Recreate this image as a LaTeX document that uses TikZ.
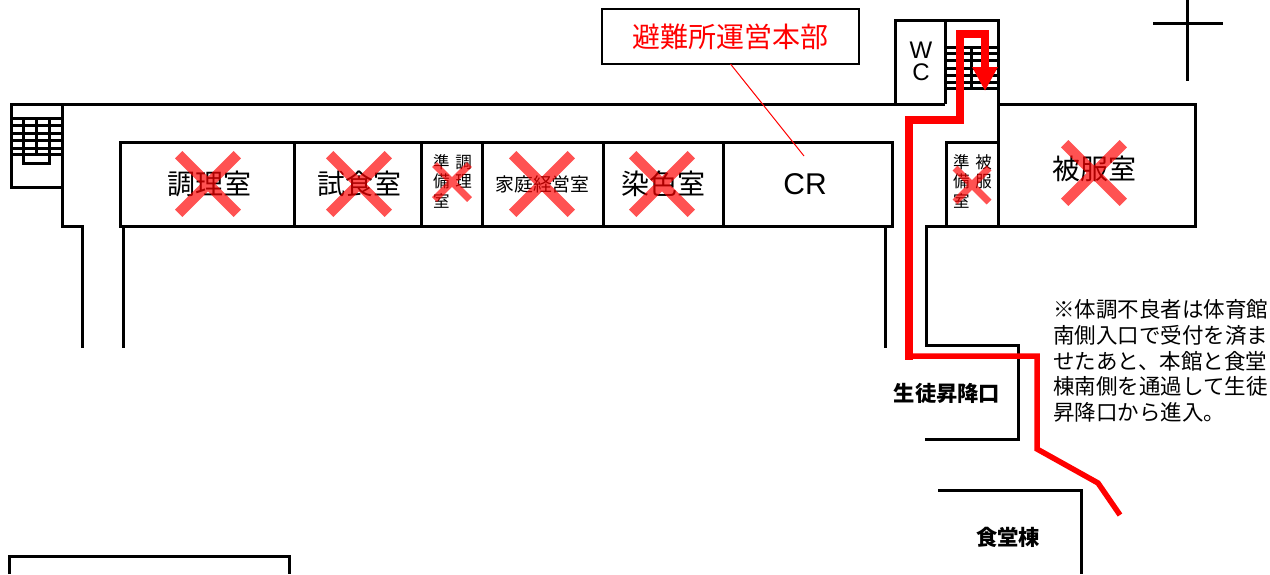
\documentclass[tikz,border=0pt]{standalone}
\usepackage{fontspec}
\setmainfont{Noto Sans CJK JP}
\newfontfamily\latinfont{Liberation Sans}
\usetikzlibrary{arrows.meta, positioning}

\tikzset{
    wall/.style={line width=3pt, black, line join=miter},
    stairline/.style={line width=3pt, black},
    room/.style={draw, line width=3pt, minimum height=84pt, inner sep=0pt, outer sep=0pt, font=\fontsize{28}{28}\selectfont},
    smalltext/.style={inner sep=0pt, align=left, font=\fontsize{16.5}{19.5}\selectfont},
    boldtext/.style={inner sep=0pt, font=\fontsize{21.3}{21.3}\selectfont\bfseries},
    route/.style={line width=5.5pt, red, line join=miter},
    batsu/.style={red, opacity=0.68},
}

\begin{document}
\begin{tikzpicture}[x=1pt, y=-1pt]
    \useasboundingbox (0, 0) rectangle (1270, 574);

    % rooms
    \node[room, minimum width=174pt] (chouri) at (207, 184) {\hspace{4pt}調理室};
    \node[room, minimum width=127pt, right=0pt of chouri] (shokuji) {\hspace{4pt}試食室};
    \node[room, minimum width=61pt, right=0pt of shokuji] (chouribi) {};
    \node[room, minimum width=121pt, right=0pt of chouribi, font=\fontsize{18.8}{18.8}\selectfont] (kaji) {家庭経営室};
    \node[room, minimum width=120pt, right=0pt of kaji] (senshoku) {染色室};
    \node[room, minimum width=169pt, right=0pt of senshoku, font=\fontsize{30}{30}\selectfont\latinfont] (cr) {CR\kern5pt};
    \node[room, minimum width=52pt] (hifukubi) at (972, 184) {};
    \node[smalltext] (chouribitext) at (452.5, 181) {準\hspace{6pt}調\\備\hspace{6pt}理\\室};
    \node[smalltext] (hifukubitext) at (972.5, 181) {準\hspace{6pt}被\\備\hspace{6pt}服\\室};

    % walls
    \draw[wall] (11, 104) rectangle (62, 187);
    \draw[wall] (62, 104) -- (945, 104);
    \draw[wall] (62, 104) -- (62, 226) -- (82, 226) -- (82, 348);
    \draw[wall] (123, 226) -- (123, 348);
    \draw[wall] (885, 226) -- (885, 348);
    \draw[wall] (895, 104) -- (895, 20) -- (998, 20) -- (998, 104);
    \draw[wall] (945, 20) -- (945, 104);
    \draw[wall] (998, 104) -- (1195, 104) -- (1195, 226) -- (926, 226) -- (926, 345) -- (1018, 345) -- (1018, 439) -- (925, 439);
    \draw[wall] (998, 104) -- (998, 226);
    \draw[wall] (938, 490) -- (1081, 490) -- (1081, 574);
    \draw[wall] (9, 574) -- (9, 556) -- (289, 556) -- (289, 574);

    % stairs
    \foreach \y in {118, 125, 133, 140, 148, 154}
        \draw[stairline] (11, \y) -- (62, \y);
    \foreach \x in {23, 36, 49}
        \draw[stairline] (\x, 118) -- (\x, 154);
    \draw[stairline] (23, 154) -- (23, 163) -- (49, 163) -- (49, 154);
    \foreach \y in {47, 53, 60, 68, 75, 82, 88}
        \draw[stairline] (945, \y) -- (998, \y);
    \foreach \x in {958, 971, 985}
        \draw[stairline] (\x, 47) -- (\x, 88);

    % compass
    \draw[wall] (1187, 0) -- (1187, 81);
    \draw[wall] (1153, 23) -- (1223, 23);

    % labels
    \node[inner sep=0pt, font=\fontsize{24}{22}\selectfont\latinfont, align=center] (wc) at (921, 61) {W\\C};
    \node[inner sep=0pt, font=\fontsize{28}{28}\selectfont] (hifuku) at (1094, 169) {被服室};
    \node[boldtext] (shoukou) at (947, 393) {生徒昇降口};
    \node[boldtext] (shokudou) at (1008, 537) {食堂棟};
    \node[inner sep=0pt, anchor=west, align=left, font=\fontsize{21.5}{25.8}\selectfont] (note) at (1053, 361) {※体調不良者は体育館\\南側入口で受付を済ま\\せたあと、本館と食堂\\棟南側を通過して生徒\\昇降口から進入。};

    % headquarters callout
    \node[draw, line width=1.5pt, minimum width=257pt, minimum height=55pt, inner sep=0pt, outer sep=0pt, text=red, font=\fontsize{28}{28}\selectfont] (honbu) at (730.5, 36.5) {避難所運営本部};
    \coordinate (crtop) at (804, 156);
    \draw[red, line width=1pt] (honbu.south) -- (crtop);

    % closed rooms
    \foreach \x/\y/\d/\w in {208/184/29.3/10.5, 359/184/29.3/10.5, 452/182/17.5/7, 542/184/29.3/10.5, 662/184/29.3/10.5, 972/185/17/7, 1094/173/29.3/10.5}
    {
        \fill[batsu] ({\x-\d-\w*0.35}, {\y-\d+\w*0.35}) -- ({\x-\d+\w*0.35}, {\y-\d-\w*0.35}) -- (\x, {\y-\w*0.7}) -- ({\x+\d-\w*0.35}, {\y-\d-\w*0.35}) -- ({\x+\d+\w*0.35}, {\y-\d+\w*0.35}) -- ({\x+\w*0.7}, \y) -- ({\x+\d+\w*0.35}, {\y+\d-\w*0.35}) -- ({\x+\d-\w*0.35}, {\y+\d+\w*0.35}) -- (\x, {\y+\w*0.7}) -- ({\x-\d+\w*0.35}, {\y+\d+\w*0.35}) -- ({\x-\d-\w*0.35}, {\y+\d-\w*0.35}) -- ({\x-\w*0.7}, \y) -- cycle;
    }

    % route
    \coordinate (routestart) at (1120, 515);
    \coordinate (routeturn) at (1037, 356);
    \coordinate (routeend) at (985, 91);
    \draw[route] (routestart) -- (1098, 483) -- (1037, 449) -- (routeturn) -- (909, 356);
    \draw[route, line width=7.5pt, -{Triangle[length=24pt, width=24pt]}] (909, 359.5) -- (909, 120) -- (960, 120) -- (960, 34) -- (985, 34) -- (routeend);
\end{tikzpicture}
\end{document}
